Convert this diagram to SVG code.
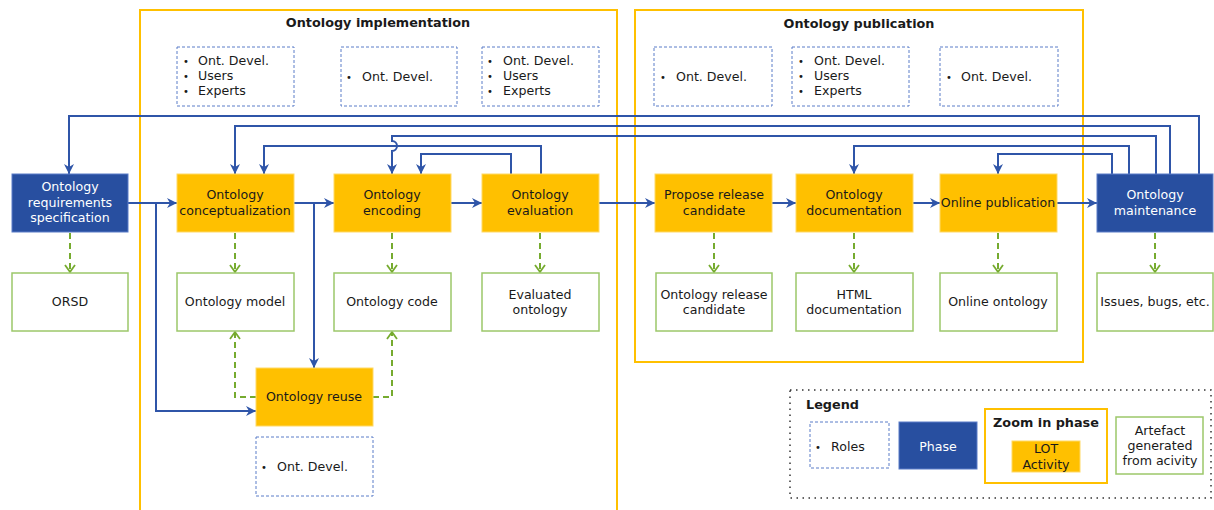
<svg xmlns="http://www.w3.org/2000/svg" width="1214" height="510" viewBox="0 0 1214 510">
<style>
text{font-family:"DejaVu Sans",Verdana,sans-serif;font-size:12.6px;fill:#1a1a1a}
.t{text-anchor:middle}
.w{fill:#fff}
.b{font-weight:bold;font-size:12.8px}
.bu{font-size:10px}
.cont{fill:none;stroke:#ffc000;stroke-width:2}
.role{fill:#fff;stroke:#5a7cc8;stroke-width:1;stroke-dasharray:3 2}
.act{fill:#ffc000;stroke:#ffd966;stroke-width:1}
.ph{fill:#284fa0;stroke:#5a7cc8;stroke-width:1}
.art{fill:#fff;stroke:#9cc76a;stroke-width:1.5}
.c{fill:none;stroke:#2f55a8;stroke-width:2}
.g{fill:none;stroke:#76ab2f;stroke-width:2;stroke-dasharray:6 4}
</style>
<defs>
<marker id="ab" markerUnits="userSpaceOnUse" markerWidth="12" markerHeight="12" refX="10" refY="6" orient="auto">
<path d="M0,1 L10,6 L0,11 L3,6 Z" fill="#2f55a8"/>
</marker>
<marker id="ag" markerUnits="userSpaceOnUse" markerWidth="12" markerHeight="12" refX="9" refY="6" orient="auto">
<path d="M2,1 L9,6 L2,11" fill="none" stroke="#76ab2f" stroke-width="1.8"/>
</marker>
</defs>
<rect width="1214" height="510" fill="#fff"/>

<g id="implementation">
<rect class="cont" x="140" y="10" width="477" height="520"/>
<text class="t b" x="378" y="27">Ontology implementation</text>
</g>
<g id="publication">
<rect class="cont" x="635" y="10" width="448" height="352"/>
<text class="t b" x="859" y="28">Ontology publication</text>
</g>

<g id="roles-1">
<rect class="role" x="177" y="47" width="117" height="59"/>
<text class="bu" x="183" y="65">•</text><text x="198" y="65">Ont. Devel.</text>
<text class="bu" x="183" y="80">•</text><text x="198" y="80">Users</text>
<text class="bu" x="183" y="95">•</text><text x="198" y="95">Experts</text>
</g>
<g id="roles-2">
<rect class="role" x="341" y="47" width="116" height="59"/>
<text class="bu" x="346" y="81">•</text><text x="362" y="81">Ont. Devel.</text>
</g>
<g id="roles-3">
<rect class="role" x="482" y="47" width="117" height="59"/>
<text class="bu" x="487" y="65">•</text><text x="503" y="65">Ont. Devel.</text>
<text class="bu" x="487" y="80">•</text><text x="503" y="80">Users</text>
<text class="bu" x="487" y="95">•</text><text x="503" y="95">Experts</text>
</g>
<g id="roles-4">
<rect class="role" x="654" y="47" width="118" height="59"/>
<text class="bu" x="660" y="81">•</text><text x="676" y="81">Ont. Devel.</text>
</g>
<g id="roles-5">
<rect class="role" x="792" y="47" width="117" height="59"/>
<text class="bu" x="798" y="65">•</text><text x="814" y="65">Ont. Devel.</text>
<text class="bu" x="798" y="80">•</text><text x="814" y="80">Users</text>
<text class="bu" x="798" y="95">•</text><text x="814" y="95">Experts</text>
</g>
<g id="roles-6">
<rect class="role" x="940" y="47" width="118" height="59"/>
<text class="bu" x="946" y="81">•</text><text x="961" y="81">Ont. Devel.</text>
</g>
<g id="roles-7">
<rect class="role" x="256" y="437" width="117" height="59"/>
<text class="bu" x="261" y="471">•</text><text x="277" y="471">Ont. Devel.</text>
</g>

<g id="connectors">
<path class="c" d="M128,203 H177" marker-end="url(#ab)"/>
<path class="c" d="M156,203 V411 H256" marker-end="url(#ab)"/>
<path class="c" d="M294,203 H334" marker-end="url(#ab)"/>
<path class="c" d="M314,203 V368" marker-end="url(#ab)"/>
<path class="c" d="M451,203 H482" marker-end="url(#ab)"/>
<path class="c" d="M599,203 H655" marker-end="url(#ab)"/>
<path class="c" d="M772,203 H796" marker-end="url(#ab)"/>
<path class="c" d="M913,203 H940" marker-end="url(#ab)"/>
<path class="c" d="M1057,203 H1097" marker-end="url(#ab)"/>
<path class="c" d="M1199,174 V116 H69 V174" marker-end="url(#ab)"/>
<path class="c" d="M1170,174 V126 H235 V174" marker-end="url(#ab)"/>
<path class="c" d="M1156,174 V136 H392 V141 A5,5 0 0 1 392,151 V174" marker-end="url(#ab)"/>
<path class="c" d="M541,174 V146 H264 V174" marker-end="url(#ab)"/>
<path class="c" d="M511,174 V154 H421 V174" marker-end="url(#ab)"/>
<path class="c" d="M1129,174 V146 H854 V174" marker-end="url(#ab)"/>
<path class="c" d="M1112,174 V154 H998 V174" marker-end="url(#ab)"/>
<path class="g" d="M70,233 V272" marker-end="url(#ag)"/>
<path class="g" d="M235,233 V272" marker-end="url(#ag)"/>
<path class="g" d="M392,233 V272" marker-end="url(#ag)"/>
<path class="g" d="M540,233 V272" marker-end="url(#ag)"/>
<path class="g" d="M714,233 V272" marker-end="url(#ag)"/>
<path class="g" d="M854,233 V272" marker-end="url(#ag)"/>
<path class="g" d="M998,233 V272" marker-end="url(#ag)"/>
<path class="g" d="M1155,233 V272" marker-end="url(#ag)"/>
<path class="g" d="M256,397 H235 V332" marker-end="url(#ag)"/>
<path class="g" d="M373,397 H392 V332" marker-end="url(#ag)"/>
</g>

<g id="ors">
<rect class="ph" x="12" y="174" width="116" height="58"/>
<text class="t w" x="70" y="191">Ontology</text>
<text class="t w" x="70" y="207">requirements</text>
<text class="t w" x="70" y="222">specification</text>
</g>
<g id="conceptualization">
<rect class="act" x="177" y="174" width="117" height="58"/>
<text class="t" x="235" y="199">Ontology</text>
<text class="t" x="235" y="215">conceptualization</text>
</g>
<g id="encoding">
<rect class="act" x="334" y="174" width="117" height="58"/>
<text class="t" x="392" y="199">Ontology</text>
<text class="t" x="392" y="215">encoding</text>
</g>
<g id="evaluation">
<rect class="act" x="482" y="174" width="117" height="58"/>
<text class="t" x="540" y="199">Ontology</text>
<text class="t" x="540" y="215">evaluation</text>
</g>
<g id="propose">
<rect class="act" x="655" y="174" width="117" height="58"/>
<text class="t" x="714" y="199">Propose release</text>
<text class="t" x="714" y="215">candidate</text>
</g>
<g id="documentation">
<rect class="act" x="796" y="174" width="117" height="58"/>
<text class="t" x="854" y="199">Ontology</text>
<text class="t" x="854" y="215">documentation</text>
</g>
<g id="online">
<rect class="act" x="940" y="174" width="117" height="58"/>
<text class="t" x="998" y="207">Online publication</text>
</g>
<g id="maintenance">
<rect class="ph" x="1097" y="174" width="116" height="58"/>
<text class="t w" x="1155" y="199">Ontology</text>
<text class="t w" x="1155" y="215">maintenance</text>
</g>
<g id="reuse">
<rect class="act" x="256" y="368" width="117" height="58"/>
<text class="t" x="314" y="401">Ontology reuse</text>
</g>

<g id="orsd"><rect class="art" x="12" y="273" width="116" height="58"/><text class="t" x="70" y="306">ORSD</text></g>
<g id="model"><rect class="art" x="177" y="273" width="117" height="58"/><text class="t" x="235" y="306">Ontology model</text></g>
<g id="code"><rect class="art" x="334" y="273" width="117" height="58"/><text class="t" x="392" y="306">Ontology code</text></g>
<g id="evaluated"><rect class="art" x="482" y="273" width="117" height="58"/><text class="t" x="540" y="299">Evaluated</text><text class="t" x="540" y="314">ontology</text></g>
<g id="release"><rect class="art" x="656" y="273" width="116" height="58"/><text class="t" x="714" y="299">Ontology release</text><text class="t" x="714" y="314">candidate</text></g>
<g id="html"><rect class="art" x="796" y="273" width="117" height="58"/><text class="t" x="854" y="299">HTML</text><text class="t" x="854" y="314">documentation</text></g>
<g id="online-ont"><rect class="art" x="940" y="273" width="117" height="58"/><text class="t" x="998" y="306">Online ontology</text></g>
<g id="issues"><rect class="art" x="1097" y="273" width="116" height="58"/><text class="t" x="1155" y="306">Issues, bugs, etc.</text></g>

<g id="legend">
<rect x="790" y="390" width="421" height="108" fill="none" stroke="#333" stroke-width="1.5" stroke-dasharray="1.5 4.5"/>
<text class="b" x="806" y="409">Legend</text>
<rect class="role" x="810" y="422" width="79" height="46"/>
<text class="bu" x="815" y="451">•</text><text x="831" y="451">Roles</text>
<rect class="ph" x="899" y="422" width="78" height="47"/>
<text class="t w" x="938" y="451">Phase</text>
<rect class="cont" x="985" y="409" width="122" height="74"/>
<text class="t b" x="1046" y="427">Zoom in phase</text>
<rect class="act" x="1012" y="441" width="68" height="31"/>
<text class="t" x="1046" y="453">LOT</text>
<text class="t" x="1046" y="469">Activity</text>
<rect class="art" x="1116" y="417" width="87" height="57"/>
<text class="t" x="1160" y="435">Artefact</text>
<text class="t" x="1160" y="450">generated</text>
<text class="t" x="1160" y="465">from acivity</text>
</g>
</svg>
